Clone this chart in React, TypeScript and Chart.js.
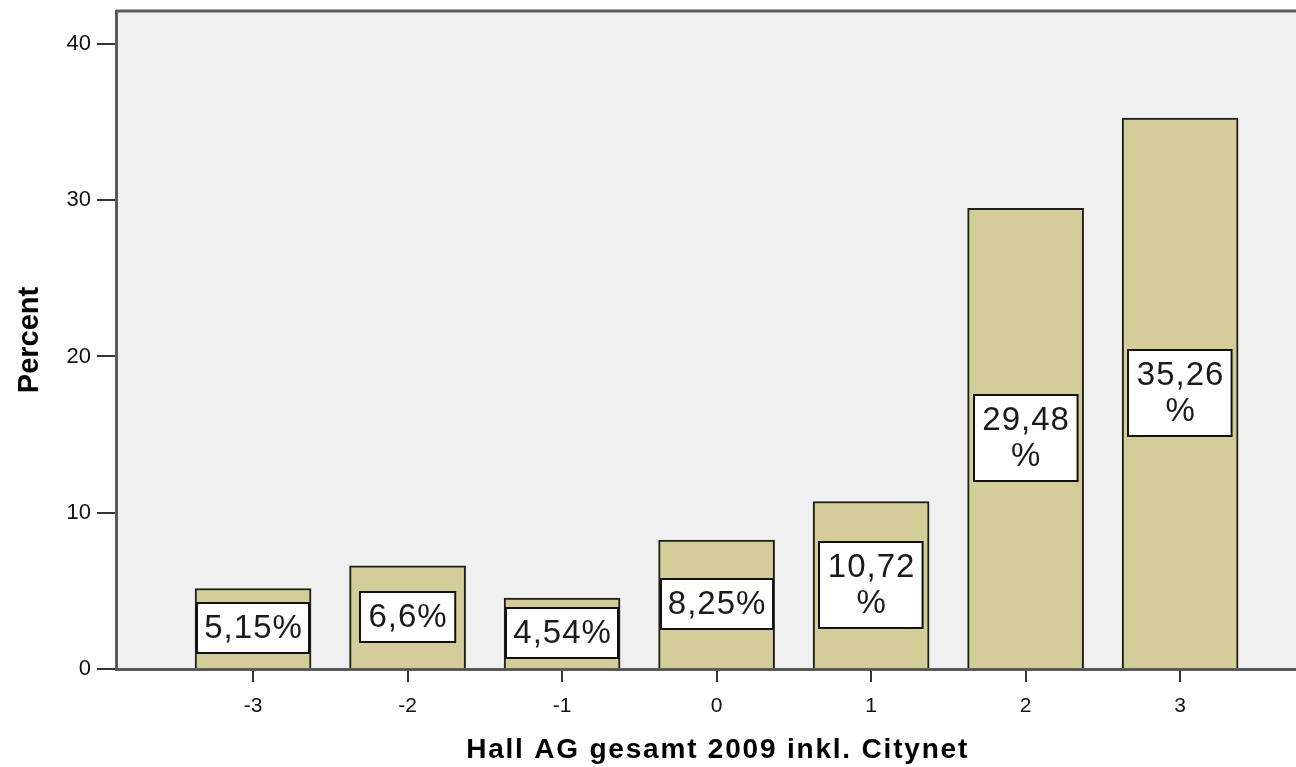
import React, { useEffect, useRef } from "react";
import { Chart, registerables } from "chart.js";

Chart.register(...registerables);

const categories = [-3, -2, -1, 0, 1, 2, 3];
const percentValues = [5.15, 6.6, 4.54, 8.25, 10.72, 29.48, 35.26];
const yTickValues = [0, 10, 20, 30, 40];
const xAxisTitle = "Hall AG gesamt 2009 inkl. Citynet";
const yAxisTitle = "Percent";

const FONT = "'Liberation Sans', Arial, sans-serif";

const plotBackground = {
  id: "plotBackground",
  beforeDraw(chart: any) {
    const { ctx, chartArea } = chart;
    ctx.save();
    ctx.fillStyle = "#f0f0f0";
    ctx.fillRect(chartArea.left, chartArea.top, chartArea.right - chartArea.left, chartArea.bottom - chartArea.top);
    ctx.strokeStyle = "#5a5a5a";
    ctx.lineWidth = 3;
    ctx.beginPath();
    ctx.moveTo(chartArea.left, chartArea.top);
    ctx.lineTo(chartArea.right, chartArea.top);
    ctx.stroke();
    ctx.restore();
  },
};

const xTitle = {
  id: "xTitle",
  afterDraw(chart: any) {
    const { ctx } = chart;
    const xs = chart.scales.x;
    const cx = (xs.getPixelForValue(categories[0]) + xs.getPixelForValue(categories[categories.length - 1])) / 2;
    ctx.save();
    ctx.font = `bold 28px ${FONT}`;
    (ctx as any).letterSpacing = "1.8px";
    ctx.fillStyle = "#000";
    ctx.textAlign = "center";
    ctx.textBaseline = "alphabetic";
    ctx.fillText(xAxisTitle, cx + 1, 758);
    ctx.restore();
  },
};

const boxLabels = {
  id: "boxLabels",
  afterDatasetsDraw(chart: any) {
    const { ctx } = chart;
    const meta = chart.getDatasetMeta(0);
    ctx.save();
    ctx.font = `33px ${FONT}`;
    (ctx as any).letterSpacing = "1px";
    ctx.textAlign = "center";
    ctx.textBaseline = "middle";
    meta.data.forEach((el: any, i: number) => {
      const v = percentValues[i];
      const num = String(v).replace(".", ",");
      const full = num + "%";
      const pad = 8;
      const barW = el.width;
      let lines = [full];
      if (ctx.measureText(full).width + pad * 2 > barW) lines = [num, "%"];
      const textW = Math.max(...lines.map((l) => ctx.measureText(l).width));
      const boxW = Math.min(textW + pad * 2, barW - 4);
      const lineH = 36;
      const boxH = lines.length * lineH + 14;
      const cx = el.x;
      const cy = (el.y + el.base) / 2;
      const x0 = Math.round(cx - boxW / 2);
      const y0 = Math.round(cy - boxH / 2);
      ctx.fillStyle = "#ffffff";
      ctx.fillRect(x0, y0, boxW, boxH);
      ctx.strokeStyle = "#111111";
      ctx.lineWidth = 2;
      ctx.strokeRect(x0, y0, boxW, boxH);
      ctx.fillStyle = "#1a1a1a";
      lines.forEach((l, k) => {
        const ly = cy - ((lines.length - 1) * lineH) / 2 + k * lineH + 1;
        ctx.fillText(l, cx + 0.5, ly);
      });
    });
    ctx.restore();
  },
};

export default function App() {
  const ref = useRef<HTMLCanvasElement>(null);
  useEffect(() => {
    if (!ref.current) return;
    const chart = new Chart(ref.current, {
      type: "bar",
      data: {
        datasets: [
          {
            data: categories.map((c, i) => ({ x: c, y: percentValues[i] })),
            backgroundColor: "#d3ce97",
            borderColor: "#1e1e18",
            borderWidth: 2,
            barThickness: 116,
          } as any,
        ],
      },
      options: {
        animation: false,
        responsive: false,
        layout: { padding: { top: 11, right: 0, bottom: 0, left: 0 } },
        plugins: { legend: { display: false }, tooltip: { enabled: false } },
        scales: {
          x: {
            type: "linear",
            offset: false,
            min: -3.887,
            max: 3.75,
            afterBuildTicks: (scale: any) => {
              scale.ticks = categories.map((v) => ({ value: v }));
            },
            afterFit: (scale: any) => {
              scale.height = 98;
              scale.paddingLeft = 0;
              scale.paddingRight = 0;
            },
            ticks: {
              color: "#111",
              font: { family: FONT, size: 21 },
              padding: 12,
              maxRotation: 0,
              autoSkip: false,
              callback: (v: any) => String(v),
            },
            grid: {
              offset: false,
              drawOnChartArea: false,
              drawTicks: true,
              tickLength: 13,
              color: "#333",
              lineWidth: 2,
            },
            border: { display: true, color: "#5a5a5a", width: 3 },
            title: { display: false },
          },
          y: {
            type: "linear",
            min: 0,
            max: 42.11,
            afterBuildTicks: (scale: any) => {
              scale.ticks = yTickValues.map((v) => ({ value: v }));
            },
            afterFit: (scale: any) => {
              scale.width = 116;
              scale.paddingTop = 0;
              scale.paddingBottom = 0;
            },
            ticks: {
              color: "#111",
              font: { family: FONT, size: 22 },
              padding: 6,
            },
            grid: {
              drawOnChartArea: false,
              drawTicks: true,
              tickLength: 19,
              color: "#333",
              lineWidth: 2,
            },
            border: { display: true, color: "#5a5a5a", width: 3 },
            title: {
              display: true,
              text: yAxisTitle,
              color: "#000",
              font: { family: FONT, size: 29, weight: "bold" },
              padding: { top: 13, bottom: 0 },
            },
          },
        },
      } as any,
      plugins: [plotBackground, boxLabels, xTitle],
    });
    return () => chart.destroy();
  }, []);
  return (
    <div style={{ position: "fixed", left: 0, top: 0, width: 1296, height: 767, background: "#fff" }}>
      <canvas ref={ref} width={1296} height={767} style={{ display: "block" }} />
    </div>
  );
}
